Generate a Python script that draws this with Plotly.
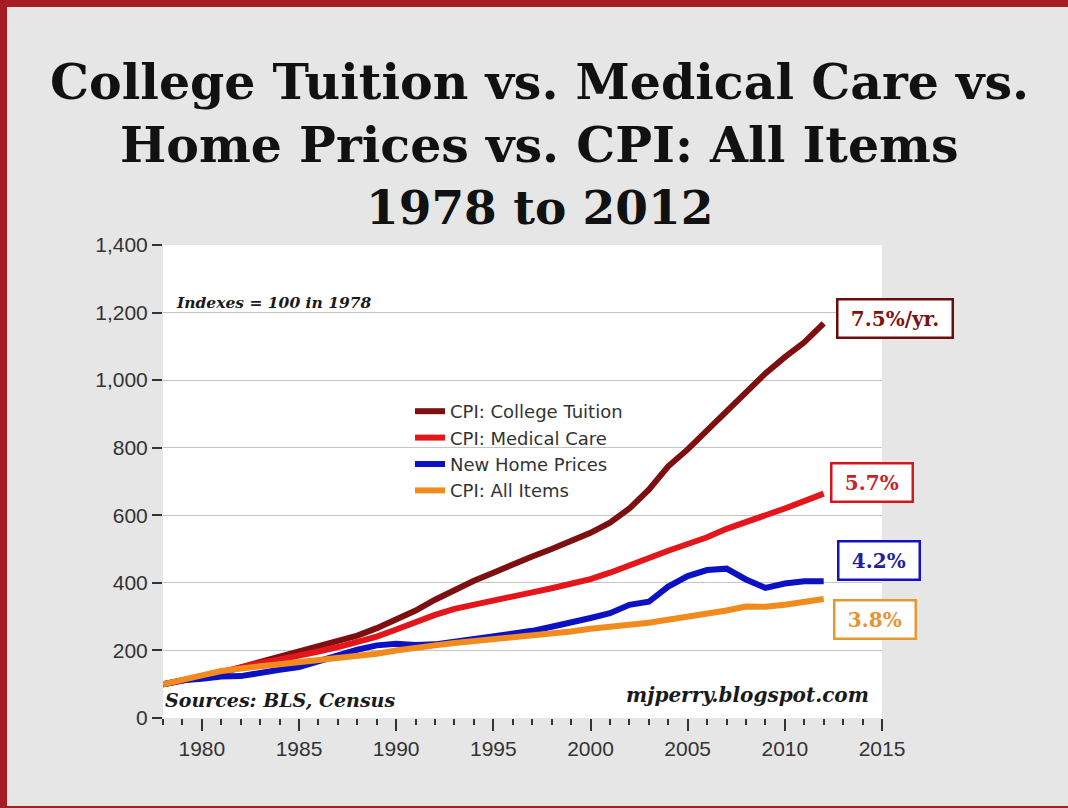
import plotly.graph_objects as go

# Index values (1978 = 100)
years = list(range(1978, 2013))

college_tuition = [100, 110, 121, 134, 150, 166, 181, 196, 210, 226, 244, 266, 290, 318, 350,
                   380, 406, 430, 456, 478, 500, 522, 548, 578, 620, 676, 745, 795, 850, 908,
                   965, 1020, 1068, 1112, 1168]
medical_care = [100, 110, 121, 136, 150, 163, 173, 183, 197, 210, 225, 241, 262, 285, 305,
                323, 336, 350, 362, 372, 384, 396, 411, 430, 453, 473, 495, 515, 535, 560,
                582, 600, 620, 640, 664]
new_home_prices = [100, 112, 116, 123, 124, 135, 143, 151, 168, 188, 202, 215, 220, 216, 218,
                   226, 234, 240, 250, 258, 270, 285, 296, 310, 335, 344, 389, 420, 438, 442,
                   410, 385, 398, 405, 405]
cpi_all_items = [100, 111, 126, 139, 148, 153, 159, 165, 168, 174, 181, 190, 200, 209, 215,
                 222, 227, 234, 241, 246, 250, 256, 264, 272, 276, 282, 290, 300, 309, 318,
                 330, 329, 335, 345, 352]

series_names = ["CPI: College Tuition", "CPI: Medical Care", "New Home Prices", "CPI: All Items"]
series_values = [college_tuition, medical_care, new_home_prices, cpi_all_items]
series_colors = ["#7d0f10", "#e3161b", "#0c12c4", "#f28b1e"]

growth_labels = ["7.5%/yr.", "5.7%", "4.2%", "3.8%"]
label_text_colors = ["#7d1414", "#c8232a", "#1f1fa0", "#e8942e"]
label_border_colors = ["#6a0d0d", "#d4171d", "#1212c0", "#e8962e"]
label_offsets = [(71, -5), (48, -11), (55, -21), (51, 20)]

title_lines = ["College Tuition vs. Medical Care vs.",
               "Home Prices vs. CPI: All Items",
               "1978 to 2012"]
title_centers = [82, 145, 207]
title_sizes = [49, 49, 47]

y_ticks = [0, 200, 400, 600, 800, 1000, 1200, 1400]
x_ticks = [1980, 1985, 1990, 1995, 2000, 2005, 2010, 2015]

W, H = 1068, 808
L, R, T, B = 163, 186, 245, 90
PW, PH = W - L - R, H - T - B


def px_x(p):
    return (p - L) / PW


def px_y(p):
    return (H - B - p) / PH


fig = go.Figure()
for name, vals, col in zip(series_names, series_values, series_colors):
    fig.add_trace(go.Scatter(x=years, y=vals, name=name, mode="lines",
                             line=dict(color=col, width=6)))

# Boxed growth-rate labels at the end of each line
for vals, txt, tc, bc, (dx, dy) in zip(series_values, growth_labels, label_text_colors,
                                       label_border_colors, label_offsets):
    fig.add_annotation(x=years[-1], y=vals[-1], xref="x", yref="y",
                       text=f"\u00a0<b>{txt}</b>\u00a0",
                       showarrow=True, arrowcolor="rgba(0,0,0,0)", ax=dx, ay=dy,
                       xanchor="center", yanchor="middle",
                       font=dict(family="DejaVu Serif", size=20, color=tc),
                       bgcolor="white", bordercolor=bc, borderwidth=2.5, borderpad=6)

# Title, one annotation per line
for line, cy, fs in zip(title_lines, title_centers, title_sizes):
    fig.add_annotation(x=px_x(W / 2 + 5), xref="paper", y=px_y(cy), yref="paper",
                       text=f"<b>{line}</b>", showarrow=False, xanchor="center",
                       yanchor="middle",
                       font=dict(family="DejaVu Serif", size=fs, color="#111111"))

# Notes inside the plot area
fig.add_annotation(x=px_x(174), y=px_y(302), xref="paper", yref="paper",
                   text="<b><i>Indexes = 100 in 1978</i></b>", showarrow=False,
                   xanchor="left", yanchor="middle",
                   font=dict(family="DejaVu Serif", size=15.5, color="#1a1a1a"))
fig.add_annotation(x=px_x(163), y=px_y(700), xref="paper", yref="paper",
                   text="<b><i>Sources: BLS, Census</i></b>", showarrow=False,
                   xanchor="left", yanchor="middle",
                   font=dict(family="DejaVu Serif", size=19, color="#1a1a1a"))
fig.add_annotation(x=px_x(871), y=px_y(695), xref="paper", yref="paper",
                   text="<b><i>mjperry.blogspot.com</i></b>", showarrow=False,
                   xanchor="right", yanchor="middle",
                   font=dict(family="DejaVu Serif", size=20, color="#1a1a1a"))

# Red frame on the top, left and bottom edges
frame = "#a61c24"
for x0, y0, x1, y1 in [(0, 0, W, 7), (0, 0, 7, H), (0, H - 2, W, H)]:
    fig.add_shape(type="rect", xref="paper", yref="paper",
                  x0=px_x(x0), x1=px_x(x1), y0=px_y(y1), y1=px_y(y0),
                  fillcolor=frame, line=dict(width=0), layer="above")

fig.update_layout(
    width=W, height=H,
    margin=dict(l=L, r=R, t=T, b=B, pad=0),
    paper_bgcolor="#e6e6e6", plot_bgcolor="white",
    font=dict(family="Liberation Sans, Arial, sans-serif", size=21, color="#333333"),
    showlegend=True,
    legend=dict(x=px_x(410), y=px_y(393), xanchor="left", yanchor="top",
                bgcolor="rgba(0,0,0,0)",
                font=dict(family="DejaVu Sans", size=18, color="#333333"),
                tracegroupgap=0, itemwidth=30),
    xaxis=dict(range=[1978, 2015], tickvals=x_ticks, showgrid=False, zeroline=False,
               showline=False, ticks="outside", ticklen=12, tickwidth=1.5,
               tickcolor="#333333", tickfont=dict(size=21, color="#333333"),
               minor=dict(dtick=1, tick0=1978, ticks="outside", ticklen=6, tickwidth=1.5,
                          tickcolor="#333333", showgrid=False)),
    yaxis=dict(range=[0, 1400], tickvals=y_ticks, tickformat=",", showgrid=True,
               gridcolor="#c4c4c4", gridwidth=1.2, zeroline=False, showline=False,
               ticks="outside", ticklen=10, tickwidth=1.5, tickcolor="#333333",
               tickfont=dict(size=21, color="#333333")),
)

fig.write_html("out.html")
